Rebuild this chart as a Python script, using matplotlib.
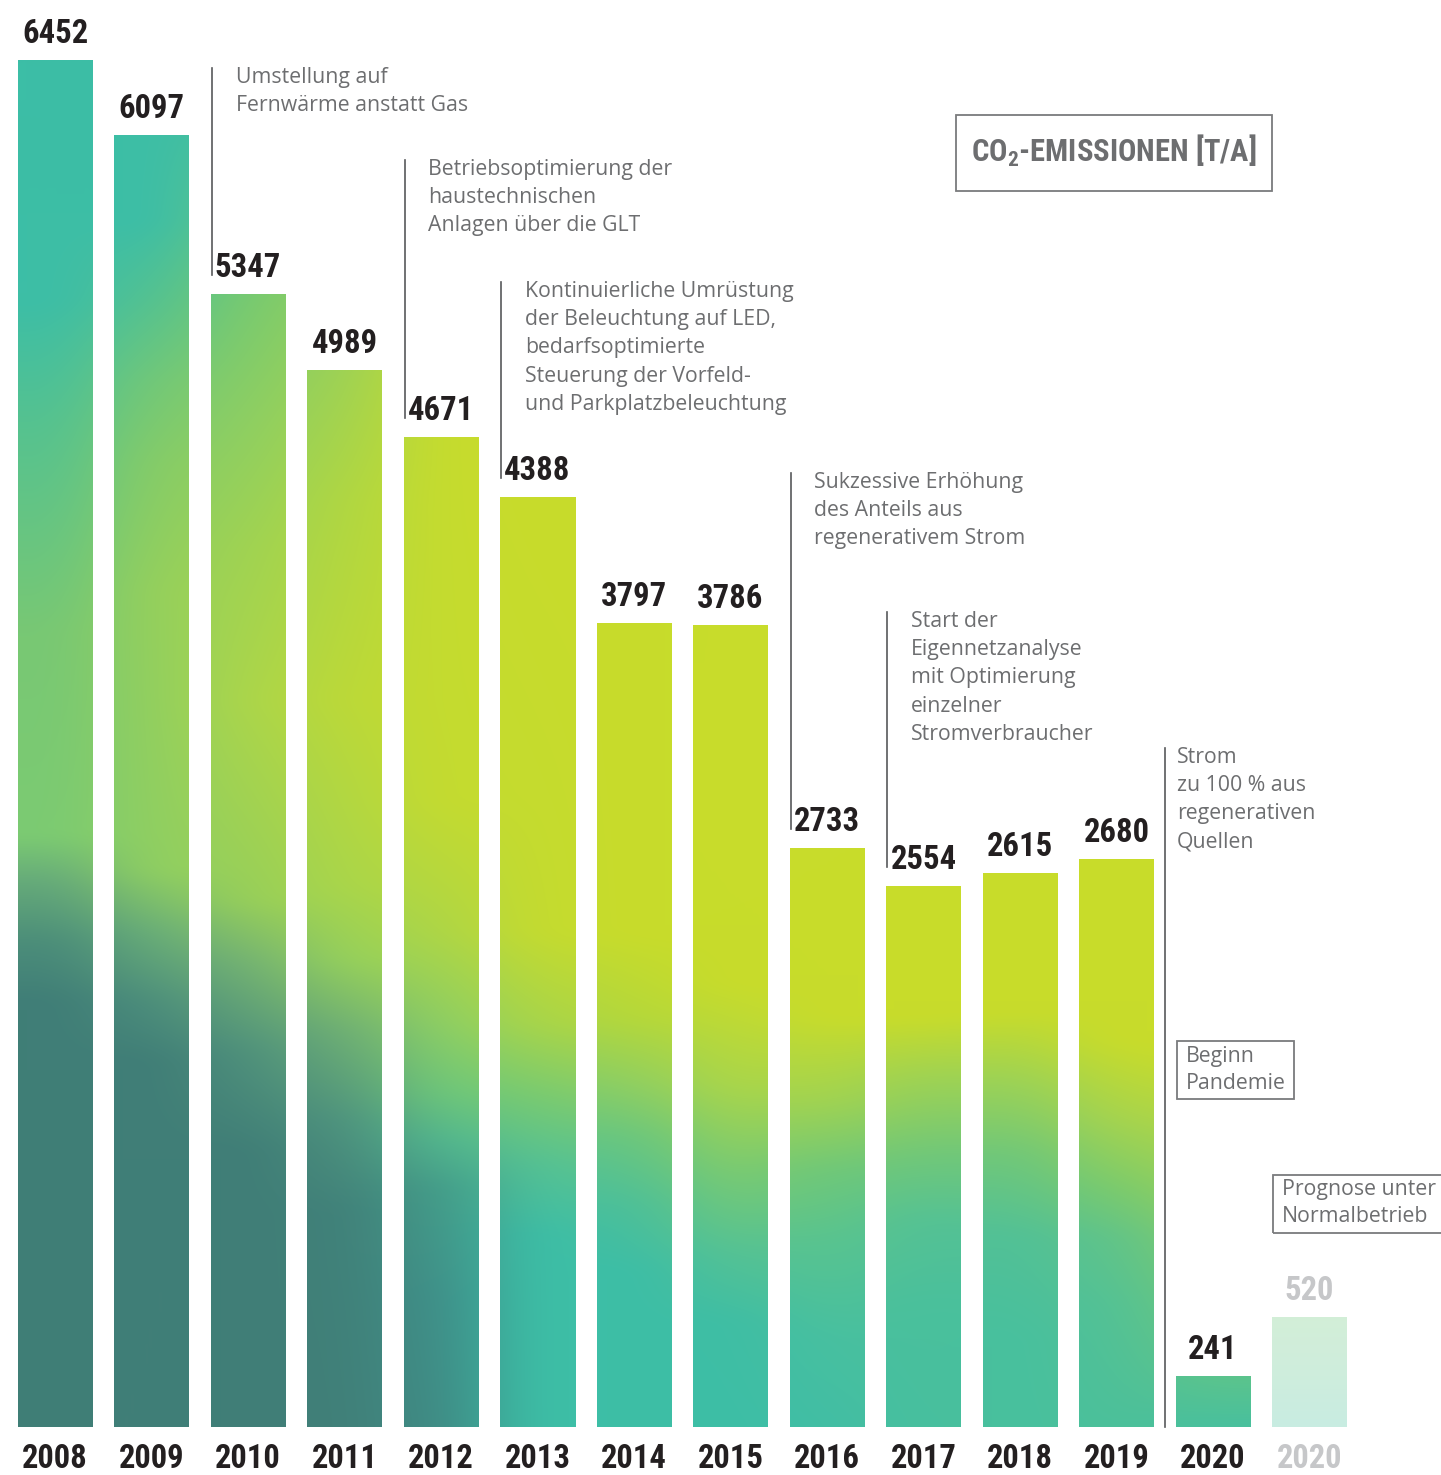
import numpy as np
import matplotlib.pyplot as plt
from matplotlib.colors import to_rgb
from matplotlib.patches import Rectangle

plt.rcParams['mathtext.default'] = 'regular'

# data
years = ['2008', '2009', '2010', '2011', '2012', '2013', '2014', '2015',
         '2016', '2017', '2018', '2019', '2020', '2020']
values = [6452, 6097, 5347, 4989, 4671, 4388, 3797, 3786,
          2733, 2554, 2615, 2680, 241, 520]
forecast = [False] * 13 + [True]

# (bar index, top of line in px, text)
notes = [
    (2, 68, "Umstellung auf\nFernwärme anstatt Gas"),
    (4, 160, "Betriebsoptimierung der\nhaustechnischen\nAnlagen über die GLT"),
    (5, 282, "Kontinuierliche Umrüstung\nder Beleuchtung auf LED,\nbedarfsoptimierte\n"
             "Steuerung der Vorfeld-\nund Parkplatzbeleuchtung"),
    (8, 473, "Sukzessive Erhöhung\ndes Anteils aus\nregenerativem Strom"),
    (9, 612, "Start der\nEigennetzanalyse\nmit Optimierung\neinzelner\nStromverbraucher"),
]
note_strom = "Strom\nzu 100 % aus\nregenerativen\nQuellen"
box_pandemie = "Beginn\nPandemie"
box_prognose = "Prognose unter\nNormalbetrieb"
title = "CO$_2$-EMISSIONEN [T/A]"

# colour stops of the background gradient per bar column (y in px, colour)
T, D, Y = '#3dbea6', '#407e77', '#c8dc2b'
stops = [
    [(60, T), (300, T), (420, '#55c290'), (630, '#78c874'), (835, '#7ccb72'),
     (880, '#66ab7a'), (940, '#4c8e7a'), (1000, D)],
    [(135, T), (220, T), (300, '#55c290'), (380, '#72c878'), (460, '#85cc68'),
     (590, '#95d05c'), (870, '#8fcf62'), (930, '#6aaf78'), (1000, '#4d8f7c'), (1060, D)],
    [(120, '#48c09c'), (200, '#62c586'), (294, '#78ca70'), (420, '#8ecf62'),
     (545, '#a0d352'), (700, '#acd64a'), (900, '#97cf5a'), (960, '#75b472'),
     (1050, '#50927c'), (1150, D)],
    [(200, '#85cc68'), (370, '#9fd254'), (500, '#b0d742'), (700, '#bcd938'),
     (885, '#aad64a'), (960, '#95d05c'), (1030, '#6fb074'), (1120, '#4f947e'),
     (1210, '#41827a'), (1427, '#418079')],
    [(437, '#c6dc2e'), (800, '#c4db30'), (932, '#aed646'), (1024, '#8dcf64'),
     (1094, '#6cc67c'), (1140, '#52b68e'), (1187, '#449e8a'), (1300, '#3f918a'),
     (1427, '#3f8d86')],
    [(497, Y), (932, '#c4db30'), (1024, '#a8d54a'), (1094, '#7acb70'),
     (1164, '#55c294'), (1233, T)],
    [(622, Y), (934, Y), (1018, '#b5d83a'), (1085, '#8fcf62'), (1135, '#6cc77d'),
     (1202, '#4fc097'), (1270, T)],
    [(622, Y), (984, Y), (1085, '#aad64a'), (1169, '#7ccb70'), (1253, '#55c294'),
     (1320, '#3fbea4'), (1427, T)],
    [(848, Y), (1018, Y), (1102, '#a0d352'), (1169, '#70c878'), (1236, '#5ac48e'),
     (1337, '#48c0a0'), (1427, '#42bea4')],
    [(886, Y), (1018, Y), (1075, '#a0d352'), (1152, '#72c878'), (1219, '#55c294'),
     (1303, '#4ac09c'), (1427, '#48c09e')],
    [(873, Y), (1011, Y), (1085, '#9ad258'), (1152, '#72c878'), (1236, '#52c196'),
     (1337, '#48c09e')],
    [(859, Y), (1041, Y), (1118, '#a6d44e'), (1186, '#7ccb6c'), (1236, '#62c488'),
     (1303, '#55c294'), (1427, '#4cc09a')],
    [(1060, Y), (1150, '#a6d44e'), (1260, '#7ccb6c'), (1376, '#5cc48c'),
     (1427, '#48c09e')],
    [(1060, Y), (1150, '#a6d44e'), (1260, '#7ccb6c'), (1376, '#5cc48c'),
     (1427, '#48c09e')],
]

W, H = 1441, 1475
STEP = 96.5          # px between bars
X0 = 55              # px centre of first bar
BASE = 1427          # px of baseline
K = 1367 / 6452      # px per t


def px_x(x):
    return (x - X0) / STEP


def px_y(y):
    return (BASE - y) / K


def box_blur(a, n, axis):
    pad = [(0, 0)] * a.ndim
    pad[axis] = (n, n)
    p = np.pad(a, pad, mode='edge')
    c = np.cumsum(p, axis=axis)
    c = np.insert(c, 0, 0, axis=axis)
    lo = np.take(c, np.arange(0, a.shape[axis]) + n - n // 2, axis=axis)
    hi = np.take(c, np.arange(0, a.shape[axis]) + n + n - n // 2, axis=axis)
    return (hi - lo) / n


fig = plt.figure(figsize=(W / 100, H / 100), dpi=100)
ax = fig.add_axes([0, 0, 1, 1])
ax.axis('off')

# gradient field
ys = np.arange(40, 1431, 2.0)
xs = np.arange(0, W + 1, 2.0)
centers = X0 + STEP * np.arange(len(values))
cols = np.zeros((len(stops), len(ys), 3))
for i, st in enumerate(stops):
    yy = [s[0] for s in st]
    cc = np.array([to_rgb(s[1]) for s in st])
    for k in range(3):
        cols[i, :, k] = np.interp(ys, yy, cc[:, k])
img = np.zeros((len(ys), len(xs), 3))
for j in range(len(ys)):
    for k in range(3):
        img[j, :, k] = np.interp(xs, centers, cols[:, j, k])
img = box_blur(img, 30, 1)
img = box_blur(img, 10, 0)
img = np.clip(img, 0, 1)
img_light = 0.3 * img + 0.7
extent = [px_x(xs[0]), px_x(xs[-1]), px_y(ys[-1]), px_y(ys[0])]

x = np.arange(len(values))
bars = ax.bar(x, values, width=75 / STEP, color='none', edgecolor='none')
for i, b in enumerate(bars):
    im = ax.imshow(img_light if forecast[i] else img, extent=extent,
                   aspect='auto', interpolation='bilinear', zorder=1)
    im.set_clip_path(b)

cond = ['Roboto Condensed', 'Open Sans Condensed', 'Liberation Sans Narrow',
        'Noto Sans', 'DejaVu Sans']
num_font = dict(family=cond, fontstretch='condensed', fontweight='bold', fontsize=23.5)

for i, (v, yr) in enumerate(zip(values, years)):
    c = '#c6c7c9' if forecast[i] else '#231f20'
    ax.text(i, v + 17 / K, str(v), ha='center', va='baseline', color=c, **num_font)
    ax.text(i, px_y(1475), yr, ha='center', va='bottom', color=c, **num_font)

# annotations
note_font = dict(family='Open Sans', fontsize=15.3, color='#6d6e70', linespacing=1.45)
line_kw = dict(color='#58595b', lw=1.2)
for idx, top, txt in notes:
    lx = idx - 0.5 * 75 / STEP + 1 / STEP
    ax.plot([lx, lx], [px_y(top), values[idx] + 19 / K], **line_kw)
    ax.text(lx + 24 / STEP, px_y(top - 1), txt, ha='left', va='top', **note_font)

lx = px_x(1165)
ax.plot([lx, lx], [px_y(748), 0], **line_kw)
ax.text(px_x(1177), px_y(747), note_strom, ha='left', va='top', **note_font)

box_kw = dict(fill=False, ec='#7a7b7d', lw=1.3)
ax.add_patch(Rectangle((px_x(1177), px_y(1099)), 117 / STEP, 58 / K, **box_kw))
ax.text(px_x(1186), px_y(1046), box_pandemie, ha='left', va='top',
        **dict(note_font, linespacing=1.4))
ax.add_patch(Rectangle((px_x(1273), px_y(1233)), 200 / STEP, 58 / K, clip_on=False, **box_kw))
ax.text(px_x(1282), px_y(1179), box_prognose, ha='left', va='top',
        **dict(note_font, linespacing=1.4))

# title box
ax.add_patch(Rectangle((px_x(956), px_y(191)), 316 / STEP, 76 / K, **box_kw))
ax.text(px_x(1114), px_y(162), title, ha='center', va='baseline', color='#6d6e70',
        family=cond, fontstretch='condensed', fontweight='bold', fontsize=22)

ax.set_xlim(px_x(0), px_x(W))
ax.set_ylim(px_y(H), px_y(0))

fig.savefig('out.png', dpi=100, facecolor='white')
